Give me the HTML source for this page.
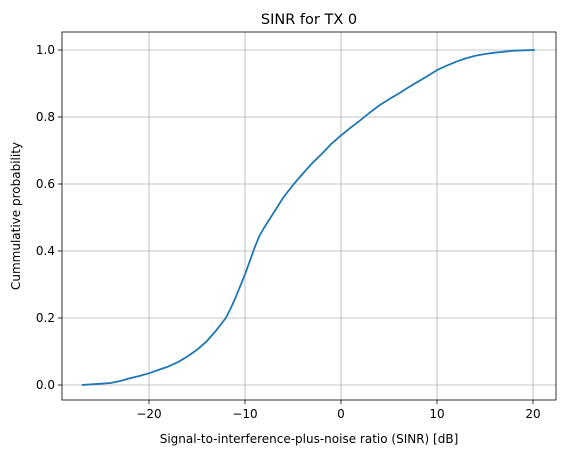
<!DOCTYPE html>
<html><head><meta charset="utf-8"><style>
body{margin:0;background:#fff;font-family:"Liberation Sans","DejaVu Sans",sans-serif;}
</style></head><body>
<svg id="chart" width="567" height="455" xmlns="http://www.w3.org/2000/svg" font-family="DejaVu Sans, Liberation Sans, sans-serif"></svg>
<script>
const xTicks=[-20,-10,0,10,20];
const yTicks=[0.0,0.2,0.4,0.6,0.8,1.0];
const sinrValues=[-27,-25,-24,-23,-22,-21,-20,-19,-18,-17,-16,-15,-14,-13,-12,-11.5,-11,-10.5,-10,-9.5,-9,-8.5,-8,-7,-6,-5,-4,-3,-2,-1,0,1,2,3,4,5,6,7,8,9,10,11,12,13,14,15,16,17,18,19,20.2];
const cdfValues=[0,0.004,0.006,0.012,0.02,0.027,0.035,0.045,0.055,0.068,0.085,0.105,0.13,0.163,0.2,0.228,0.26,0.295,0.33,0.37,0.41,0.445,0.47,0.515,0.56,0.597,0.63,0.662,0.69,0.72,0.745,0.768,0.79,0.813,0.835,0.853,0.87,0.888,0.905,0.922,0.94,0.953,0.965,0.975,0.983,0.988,0.992,0.995,0.998,0.999,1.0];
const L=62,R=556,T=32,B=400;
const X=v=>341+v*9.6;
const Y=v=>385-v*335;
const svg=document.getElementById('chart');
const NS='http://www.w3.org/2000/svg';
function mk(t,a,p){const e=document.createElementNS(NS,t);for(const k in a)e.setAttribute(k,a[k]);(p||svg).appendChild(e);return e;}
xTicks.forEach(v=>{
  const g=mk('line',{x1:X(v),x2:X(v),y1:T,y2:B,stroke:'#b0b0b0','stroke-width':0.8});
  
  
  mk('line',{x1:X(v),x2:X(v),y1:B,y2:B+4,stroke:'#000','stroke-width':0.8});
  const t=mk('text',{x:X(v),y:B+18,'text-anchor':'middle','font-size':12});
  t.textContent=(v<0?'\u2212'+(-v):v);
  
  
});
yTicks.forEach(v=>{
  const g=mk('line',{x1:L,x2:R,y1:Y(v),y2:Y(v),stroke:'#b0b0b0','stroke-width':0.8});
  
  
  mk('line',{x1:L-4,x2:L,y1:Y(v),y2:Y(v),stroke:'#000','stroke-width':0.8});
  const t=mk('text',{x:L-7,y:Y(v)+4,'text-anchor':'end','font-size':12});
  t.textContent=v.toFixed(1);
  
  
});
const pts=sinrValues.map((s,i)=>X(s).toFixed(1)+','+Y(cdfValues[i]).toFixed(1)).join(' ');
const line=mk('polyline',{points:pts,fill:'none',stroke:'#1f77b4','stroke-width':1.8,'stroke-linejoin':'round'});


const frame=mk('rect',{x:L,y:T,width:R-L,height:B-T,fill:'none',stroke:'#000','stroke-width':0.8});


const title=mk('text',{x:(L+R)/2,y:24,'text-anchor':'middle','font-size':14.5});
title.textContent='SINR for TX 0';


const xl=mk('text',{x:(L+R)/2,y:443,'text-anchor':'middle','font-size':12});
xl.textContent='Signal-to-interference-plus-noise ratio (SINR) [dB]';


const yl=mk('text',{x:20,y:(T+B)/2,'text-anchor':'middle','font-size':12,transform:'rotate(-90 20 '+((T+B)/2)+')'});
yl.textContent='Cummulative probability';


</script>
</body></html>
